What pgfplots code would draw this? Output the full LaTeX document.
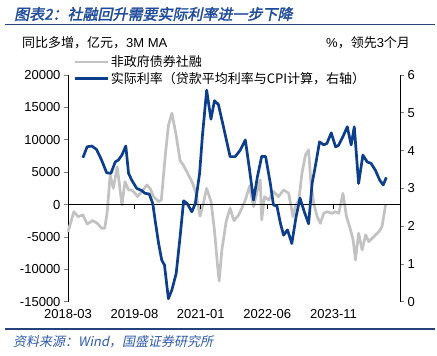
\documentclass[border=0pt]{standalone}
\usepackage{pgfplots}
\pgfplotsset{compat=1.18}
\usepackage{fontspec}
\setmainfont{Liberation Sans}
\newfontfamily\cjk{Noto Sans CJK SC}
\newfontfamily\cjktitle[FakeSlant=0.2,FakeBold=2]{Noto Sans CJK SC}
\newfontfamily\cjkit[FakeSlant=0.2]{Noto Sans CJK SC}
\definecolor{titleblue}{HTML}{1F4B9B}
\definecolor{rulenavy}{HTML}{25427A}
\definecolor{lineblue}{HTML}{0D3E8C}
\definecolor{linegray}{HTML}{C2C2C2}
\definecolor{srcblue}{HTML}{2E5AAC}
\newcommand{\fs}{\fontsize{13}{15}\selectfont}
\begin{document}
\begin{tikzpicture}
\path[use as bounding box] (0pt,0pt) rectangle (437pt,-356pt);
\node[anchor=west, text=titleblue, font=\fontsize{15}{17}\selectfont\cjktitle, inner sep=0pt] at (14pt,-14pt) {图表2：社融回升需要实际利率进一步下降};
\draw[rulenavy, line width=1.2pt] (5pt,-24.5pt) -- (435pt,-24.5pt);
\draw[rulenavy, line width=1.2pt] (5pt,-329pt) -- (435pt,-329pt);
\node[anchor=west, text=srcblue, font=\fs\cjkit, inner sep=0pt] at (13pt,-342pt) {资料来源：Wind，国盛证券研究所};
\node[anchor=west, font=\fs, inner sep=0pt] at (22pt,-43pt) {{\cjk 同比多增，亿元，}3M MA};
\node[anchor=west, font=\fs, inner sep=0pt] at (326pt,-43pt) {\%{\cjk ，领先}3{\cjk 个月}};

\begin{axis}[
  at={(68pt,-301.7pt)}, anchor=south west,
  scale only axis, width=332pt, height=226.7pt,
  xmin=0, xmax=85, ymin=-15000, ymax=20000,
  axis x line*=bottom, x axis line style={draw=none},
  xtick={0,17,34,51,68},
  xticklabels={2018-03,2019-08,2021-01,2022-06,2023-11},
  xtick style={draw=none},
  axis y line*=left,
  ytick={-15000,-10000,...,20000},
  scaled y ticks=false,
  tick align=outside,
  major tick length=4pt,
  y axis line style={line width=0.8pt},
  ytick style={line width=0.8pt},
  ticklabel style={font=\fs},
  /pgf/number format/assume math mode=true,
  /pgf/number format/1000 sep={},
  clip=false,
]
\addplot[linegray, line width=2.7pt, line join=round] coordinates {
(0,-4200) (1.5,-1100) (2.6,-1870) (3.8,-1600) (4.9,-3000) (6.3,-2480) (7.5,-2900) (8.6,-3660) (9.4,-3660) (10,-1350) (10.8,4570) (11.6,2500) (12.6,5850) (13.8,-60) (14.6,3530) (15.5,2250) (16.3,2250) (17.2,1740) (17.8,1220) (18.9,2000) (20.2,3020) (21,2500) (21.9,1220) (23.2,450) (23.9,720) (24.9,7500) (25.7,12200) (26.6,14100) (27.6,11000) (28.7,6800) (29.6,6000) (30.9,4500) (31.9,3300) (32.8,1700) (33.8,-1800) (34.7,300) (35.5,2500) (36.6,500) (37.5,-4000) (38.3,-9500) (38.7,-11800) (39.4,-7000) (40.5,-2600) (41.5,-570) (42.5,-2500) (43.7,-1600) (44.5,-570) (45.4,700) (46.5,2870) (47.5,-320) (48.4,2000) (49.2,3800) (49.6,-2380) (50.3,1220) (51.4,700) (52.6,2000) (53.9,1220) (55.2,2250) (56.5,1740) (57.6,-1870) (58.2,-320) (59.1,700) (59.9,4830) (60.8,7650) (61.6,8430) (62.2,3290) (62.9,200) (63.8,-1870) (64.6,-2900) (65.5,-1350) (66.3,-1100) (67.6,-1350) (68.4,-1100) (69.3,-1350) (69.7,-320) (70.4,1740) (71.3,-1870) (72.1,-3400) (73,-5460) (73.6,-8550) (74.4,-4430) (75.3,-7000) (76.2,-4690) (77,-5720) (78.3,-4950) (79.6,-4180) (80.4,-3400) (81.3,-60)
};
\draw[black, line width=0.8pt] (axis cs:0,0) -- (axis cs:85,0);
\pgfplotsinvokeforeach{17,34,51,68}{\draw[black, line width=0.8pt] (axis cs:#1,0) -- ++(0pt,-4pt);}
\end{axis}

\begin{axis}[
  at={(68pt,-301.7pt)}, anchor=south west,
  scale only axis, width=332pt, height=226.7pt,
  xmin=0, xmax=85, ymin=0, ymax=6,
  axis x line=none,
  axis y line*=right,
  ytick={0,1,...,6},
  tick align=outside,
  major tick length=4pt,
  y axis line style={line width=0.8pt},
  ytick style={line width=0.8pt},
  ticklabel style={font=\fs},
  /pgf/number format/assume math mode=true,
  legend style={at={(axis description cs:0.015,1.095)}, anchor=north west, draw=none, fill=none, font=\fs\cjk, inner sep=0pt, row sep=0pt, /tikz/every even column/.append style={column sep=0pt}},
  legend cell align=left,
  legend image code/.code={\draw[#1] (0pt,0pt) -- (33pt,0pt);},
  clip=false,
]
\addlegendimage{linegray, line width=2.7pt}
\addlegendentry{非政府债券社融}
\addplot[lineblue, line width=2.7pt, line join=round] coordinates {
(3.8,3.81) (4.9,4.10) (6.1,4.12) (7.3,4.03) (8.6,3.75) (9.9,3.41) (11,3.40) (12.1,3.70) (12.9,3.75) (13.8,3.88) (14.8,4.12) (15.5,3.40) (16.3,3.22) (17.6,3.0) (18.9,2.94) (19.7,2.87) (20.8,2.85) (21.7,2.60) (22.3,2.16) (23.2,1.54) (24,1.10) (24.7,0.97) (25.7,0.08) (26.6,0.31) (27.7,0.75) (28.7,1.72) (29.6,2.67) (30.5,2.6) (31.7,2.38) (32.6,2.60) (33.7,3.40) (34.4,4.37) (35.5,5.60) (36.6,4.83) (37.5,5.32) (38.5,5.22) (39.8,4.63) (41.5,3.84) (42.8,3.84) (44.1,4.01) (45.4,4.28) (46.5,3.48) (47.5,2.69) (48.5,3.31) (49.6,3.85) (50.6,3.84) (51.8,3.13) (52.6,2.56) (53.5,2.53) (54.4,2.07) (55.2,1.76) (56.2,1.90) (57.3,1.54) (58.4,2.25) (59.4,2.74) (60.5,2.38) (61.6,2.06) (62.5,3.13) (63.3,3.57) (64.4,4.23) (65.5,4.15) (66.3,4.19) (67.4,4.47) (68.5,4.10) (69.2,4.13) (70.4,4.37) (71.5,4.63) (72.5,4.15) (73.3,4.63) (74.4,3.13) (75.5,3.88) (76.6,3.70) (77.6,3.66) (78.7,3.48) (79.8,3.22) (80.7,3.09) (81.5,3.29)
};
\addlegendentry{实际利率（贷款平均利率与CPI计算，右轴）}
\end{axis}
\end{tikzpicture}
\end{document}
